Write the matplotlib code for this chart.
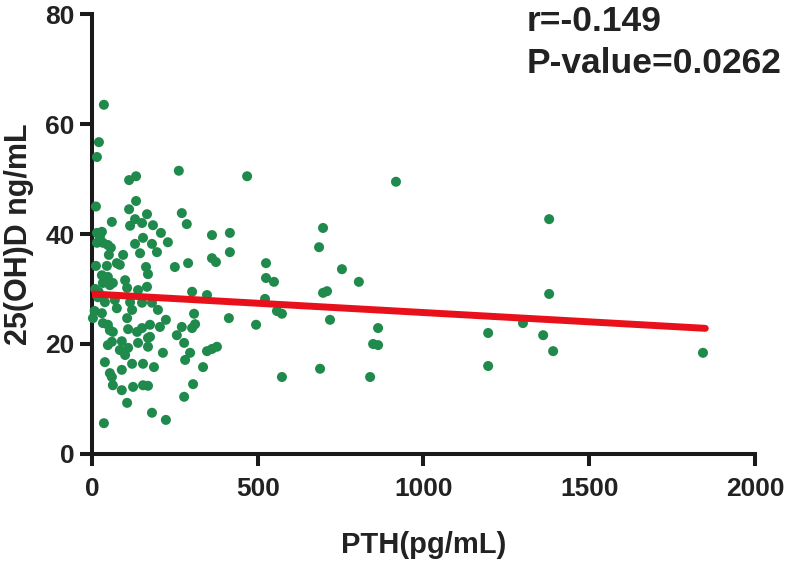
import matplotlib
matplotlib.use("Agg")
import matplotlib.pyplot as plt
import numpy as np

plt.rcParams['font.family'] = ['Liberation Sans', 'DejaVu Sans']
plt.rcParams['font.weight'] = 'bold'

# PTH (pg/mL) and 25(OH)D (ng/mL)
pth = [36, 21, 15, 262, 112, 133, 12, 133, 112, 60, 166, 271, 286, 130, 115,
       151, 184, 208, 362, 416, 15, 30, 24, 15, 33, 48, 154, 130, 181, 229,
       57, 51, 145, 196, 94, 416, 362, 374, 12, 45, 75, 84, 163, 250, 290,
       169, 30, 48, 33, 54, 63, 100, 106, 139, 166, 18, 39, 69, 75, 115,
       121, 151, 181, 199, 302, 347, 3, 30, 33, 48, 54, 63, 106, 109, 136,
       151, 175, 175, 205, 223, 308, 311, 271, 256, 302, 413, 48, 60, 90, 84,
       109, 100, 139, 169, 169, 214, 278, 296, 281, 347, 362, 377, 39, 54, 60,
       90, 121, 154, 187, 335, 63, 90, 124, 154, 169, 305, 278, 106, 181, 223,
       36, 468, 917, 697, 685, 525, 525, 549, 754, 805, 697, 709, 522, 558, 573,
       495, 718, 863, 848, 863, 573, 688, 839, 1379, 1379, 1300, 1195, 1361, 1391, 1195,
       1843, 10, 20, 8]
vitd = [63.5, 56.7, 54, 51.5, 49.8, 50.5, 45, 46, 44.5, 42.2, 43.6, 43.8, 41.8, 42.7, 41.5,
        42, 41.6, 40.2, 39.8, 40.2, 40.2, 40.4, 39.5, 38.4, 38.4, 38, 39.3, 38.2, 38.2, 38.5,
        37.5, 36.2, 36.5, 36.7, 36.2, 36.7, 35.6, 34.9, 34.2, 34.2, 34.7, 34.4, 34, 34, 34.7,
        32.7, 32.5, 32.2, 31.1, 30.7, 31.1, 31.6, 30.2, 29.8, 30.4, 28.5, 27.6, 28, 26.5, 27.6,
        26.2, 27.5, 27.5, 26.2, 29.5, 28.9, 24.7, 25.6, 23.8, 23.5, 22.5, 22.2, 24.7, 22.7, 22.2,
        22.9, 23.5, 21.3, 23.1, 24.4, 25.5, 23.6, 23.1, 21.6, 22.9, 24.7, 19.8, 20.4, 20.5, 18.9,
        19.3, 18, 20.2, 19.5, 21.1, 18.4, 20.2, 18.4, 17.1, 18.7, 19.1, 19.5, 16.7, 14.7, 14,
        15.3, 16.4, 16.4, 15.8, 15.8, 12.5, 11.6, 12.2, 12.5, 12.4, 12.7, 10.4, 9.3, 7.5, 6.2,
        5.6, 50.5, 49.5, 41.1, 37.6, 34.7, 32, 31.3, 33.6, 31.3, 29.3, 29.6, 28.2, 26, 25.5,
        23.5, 24.4, 22.9, 20, 19.8, 14, 15.5, 14, 42.7, 29.1, 23.8, 22, 21.6, 18.7, 16,
        18.4, 30, 29.5, 26]

# regression line
fit_intercept = 29.1
fit_slope = -0.00338
fit_x = [0, 1850]

r_text = "r=-0.149"
p_text = "P-value=0.0262"

fig = plt.figure(figsize=(7.86, 5.67), dpi=100)
ax = fig.add_axes([0.117, 0.1993, 0.8436, 0.776])

ax.scatter(pth, vitd, s=52, color='#1f8a4c', edgecolors='none', zorder=3, clip_on=False)
fx = np.array(fit_x)
ax.plot(fx, fit_intercept + fit_slope * fx, color='#e8101a', lw=5,
        solid_capstyle='round', zorder=4)

ax.set_xlim(0, 2000)
ax.set_ylim(0, 80)
ax.set_xticks([0, 500, 1000, 1500, 2000])
ax.set_yticks([0, 20, 40, 60, 80])

for s in ['top', 'right']:
    ax.spines[s].set_visible(False)
for s in ['left', 'bottom']:
    ax.spines[s].set_linewidth(2.9)
    ax.spines[s].set_color('#1a1a1a')

ax.tick_params(direction='out', length=8.5, width=2.9, color='#1a1a1a',
               labelsize=19, pad=4)
ax.tick_params(axis='x', pad=8)
for lab in ax.get_xticklabels() + ax.get_yticklabels():
    lab.set_fontweight('bold')
    lab.set_color('#222222')

ax.set_xlabel('PTH(pg/mL)', fontsize=21, fontweight='bold', labelpad=22, color='#222222')
ax.set_ylabel('25(OH)D ng/mL', fontsize=22, fontweight='bold', labelpad=8, color='#222222')

ax.text(1312, 78.7, r_text, fontsize=25.5, fontweight='bold', ha='left', va='center',
        color='#222222')
ax.text(1312, 71, p_text, fontsize=25.5, fontweight='bold', ha='left', va='center',
        color='#222222')

fig.savefig('out.png', dpi=100)
